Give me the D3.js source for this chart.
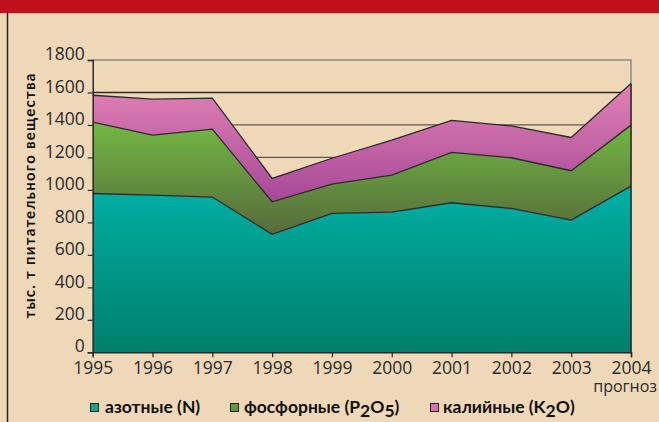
<!DOCTYPE html>
<html><head><meta charset="utf-8">
<script src="https://cdn.jsdelivr.net/npm/d3@7"></script>
<style>body{margin:0;background:#efd8b8;}svg{display:block;}</style>
</head><body>
<script>
const years = [1995,1996,1997,1998,1999,2000,2001,2002,2003,2004];
const nitrogen   = [978, 968, 956, 726, 855, 863, 921, 886, 814, 1023];
const phosphorus = [439, 369, 418, 201, 181, 228, 310, 312, 304, 376];
const potassium  = [166, 222, 191, 144, 159, 215, 197, 196, 205, 256];
const yTicks = [0,200,400,600,800,1000,1200,1400,1600,1800];
const seriesNames = ["азотные (N)", "фосфорные (P2O5)", "калийные (K2O)"];

const W=659,H=422;
const svg=d3.select("body").append("svg").attr("width",W).attr("height",H);
svg.append("rect").attr("width",W).attr("height",H).attr("fill","#efd8b8");
svg.append("rect").attr("width",W).attr("height",13).attr("fill","#c0111a");
svg.append("line").attr("x1",7.5).attr("x2",7.5).attr("y1",13).attr("y2",H).attr("stroke","#222").attr("stroke-width",1.5);

const x=d3.scaleLinear().domain([1995,2004]).range([92.7,631]);
const y=d3.scaleLinear().domain([0,1800]).range([352.3,60]);

const defs=svg.append("defs");
function grad(id,c1,c2){
  const g=defs.append("linearGradient").attr("id",id).attr("x1",0).attr("y1",0).attr("x2",0).attr("y2",1);
  g.append("stop").attr("offset","0%").attr("stop-color",c1);
  g.append("stop").attr("offset","100%").attr("stop-color",c2);
}
grad("gN","#00b0a5","#007f6c");
grad("gP","#72b844","#566b3b");
grad("gK","#e282b4","#a64898");

// gridlines
svg.append("g").selectAll("line").data(yTicks.filter(d=>d>0&&d<1800)).join("line")
  .attr("x1",x(1995)).attr("x2",x(2004)).attr("y1",d=>y(d)).attr("y2",d=>y(d))
  .attr("stroke",d=>d===1600?"#2e2a26":"#5f564e").attr("stroke-width",1.3);
// top & right border
svg.append("path").attr("d",`M${x(1995)},${y(1800)}H${x(2004)}V${y(0)}`).attr("fill","none").attr("stroke","#8a8a8a").attr("stroke-width",1.5);

const data=years.map((yr,i)=>({year:yr,n:nitrogen[i],p:phosphorus[i],k:potassium[i]}));
const stack=d3.stack().keys(["n","p","k"])(data);
const area=d3.area().x(d=>x(d.data.year)).y0(d=>y(d[0])).y1(d=>y(d[1]));
const fills=["url(#gN)","url(#gP)","url(#gK)"];
svg.append("g").selectAll("path").data(stack).join("path")
  .attr("d",area).attr("fill",(d,i)=>fills[i]);
const line=d3.line().x(d=>x(d.data.year)).y(d=>y(d[1]));
svg.append("g").selectAll("path").data(stack).join("path")
  .attr("d",line).attr("fill","none").attr("stroke","#2a2a2a").attr("stroke-width",1.3);
svg.append("line").attr("x1",x(2004)).attr("x2",x(2004)).attr("y1",y(0)).attr("y2",y(d3.sum([nitrogen[9],phosphorus[9],potassium[9]])))
  .attr("stroke","#2a2a2a").attr("stroke-width",1.5);

// axes
const yAxis=d3.axisLeft(y).tickValues(yTicks).tickFormat(d3.format("d")).tickSize(5).tickPadding(3);
const gy=svg.append("g").attr("transform",`translate(${x(1995)},0)`).call(yAxis);
const xAxis=d3.axisBottom(x).tickValues(years).tickFormat(d3.format("d")).tickSize(5).tickPadding(3);
const gx=svg.append("g").attr("transform",`translate(0,${y(0)})`).call(xAxis);
[gy,gx].forEach(g=>{
  g.select(".domain").attr("stroke","#2a2a2a").attr("stroke-width",1.5);
  g.selectAll(".tick line").attr("stroke","#2a2a2a").attr("stroke-width",1.2);
  g.selectAll("text").attr("font-family","Open Sans, sans-serif").attr("font-size",17.5).attr("fill","#2b2b2b");
});
gx.selectAll("text").attr("dy","0.78em");
gy.selectAll("text").attr("dy","-0.02em");

svg.append("text").attr("x",657).attr("y",392).attr("text-anchor","end")
  .attr("font-family","Open Sans, sans-serif").attr("font-size",16).attr("fill","#2b2b2b").text("прогноз");

svg.append("text").attr("transform","translate(35,196) rotate(-90)").attr("text-anchor","middle")
  .attr("font-family","Lato, sans-serif").attr("font-weight","bold").attr("font-size",15).attr("fill","#111")
  .attr("textLength",245).attr("lengthAdjust","spacing")
  .text("тыс.  т питательного вещества");

// legend
const legColors=["#1aa592","#5e9a3e","#d574ae"];
const legX=[90,230,430];
legX.forEach((lx,i)=>{
  svg.append("rect").attr("x",lx+0.5).attr("y",403.5).attr("width",8).attr("height",8)
    .attr("fill",legColors[i]).attr("stroke","#222").attr("stroke-width",1);
});
function legText(lx,parts){
  const t=svg.append("text").attr("x",lx).attr("y",413).attr("font-family","Lato, sans-serif")
    .attr("font-weight","bold").attr("font-size",17.5).attr("fill","#111");
  parts.forEach(p=>{
    const ts=t.append("tspan").text(p[0]);
    if(p[1]) ts.attr("dy",p[1]);
  });
}
legText(105,[["азотные (N)"]]);
legText(244,[["фосфорные (P"],["2",4],["O",-4],["5",4],[")",-4]]);
legText(443,[["калийные (K"],["2",4],["O)",-4]]);
</script>
</body></html>
